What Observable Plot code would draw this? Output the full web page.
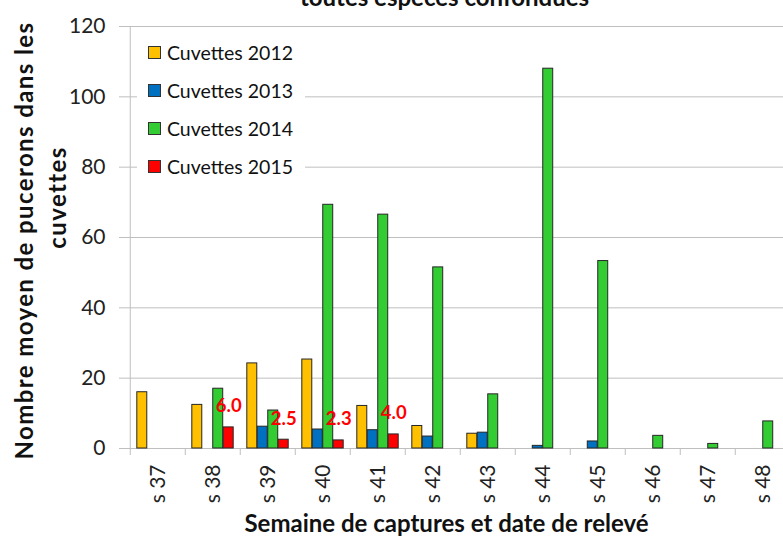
<!DOCTYPE html>
<html><head><meta charset="utf-8">
<script src="https://cdn.jsdelivr.net/npm/d3@7"></script>
<script src="https://cdn.jsdelivr.net/npm/@observablehq/plot@0.6"></script>
<style>
html,body{margin:0;padding:0;overflow:hidden;background:#fff;width:783px;height:538px;}
#wrap{position:relative;width:783px;height:538px;overflow:hidden;}
#legend{position:absolute;left:137px;top:34px;width:168px;height:152px;background:#fff;font-family:Lato,sans-serif;font-size:19.5px;color:#111;}
.row{position:absolute;left:11px;height:22px;display:flex;align-items:center;white-space:nowrap;}
.sw{width:11px;height:11px;border:1px solid #333;margin-right:6px;flex:none;}
</style></head><body><div id="wrap"></div>
<script>
const weeks = ["s 37","s 38","s 39","s 40","s 41","s 42","s 43","s 44","s 45","s 46","s 47","s 48"];
const series = ["Cuvettes 2012","Cuvettes 2013","Cuvettes 2014","Cuvettes 2015"];
const colors = ["#FFC000","#0070C0","#33CC33","#FF0000"];
const v2012 = [16.0, 12.4, 24.2, 25.3, 12.1, 6.4, 4.2, null, null, null, null, null];
const v2013 = [null, null, 6.2, 5.4, 5.2, 3.4, 4.5, 0.75, 2.0, null, null, null];
const v2014 = [null, 17.0, 10.8, 69.3, 66.5, 51.5, 15.4, 108.0, 53.3, 3.6, 1.3, 7.7];
const v2015 = [null, 6.0, 2.5, 2.3, 4.0, null, null, null, null, null, null, null];
const labels2015 = ["", "6.0", "2.5", "2.3", "4.0", "", "", "", "", "", "", ""];
const yTicks = [0, 20, 40, 60, 80, 100, 120];
const title = "toutes espèces confondues";
const yTitle1 = "Nombre moyen de pucerons dans les";
const yTitle2 = "cuvettes";
const xTitle = "Semaine de captures et date de relevé";

const values = [v2012, v2013, v2014, v2015];
const rows = [];
series.forEach((s, i) => weeks.forEach((w, j) => {
  if (values[i][j] != null) rows.push({week: w, series: s, si: i, value: values[i][j], label: i === 3 ? labels2015[j] : ""});
}));

const x0 = 127, x1 = 793;
const step = (x1 - x0) / weeks.length;
const slot = step / 5.3;
const outer = slot * 0.65;
const font = "Lato, sans-serif";

const barMarks = series.map((s, i) => Plot.barY(rows.filter(d => d.si === i), {
  x: "week", y: "value", fill: colors[i], stroke: "#262626", strokeWidth: 1,
  insetLeft: outer + i * slot, insetRight: step - outer - (i + 1) * slot
}));

const redOffset = outer + 3 * slot + slot / 2 - step / 2;

const chart = Plot.plot({
  width: 783, height: 538,
  marginLeft: x0, marginRight: 0, marginTop: 26, marginBottom: 90,
  style: {fontFamily: font, background: "transparent", overflow: "hidden"},
  x: {type: "band", domain: weeks, range: [x0, x1], padding: 0, label: null},
  y: {domain: [0, 120], range: [448, 26], label: null},
  marks: [
    Plot.gridY(yTicks, {stroke: "#bfbfbf", strokeOpacity: 1}),
    Plot.ruleX(weeks.slice(0, 1), {x: d => d, dx: -step / 2, stroke: "#bfbfbf"}),
    Plot.ruleX(weeks, {x: d => d, dx: -step / 2, y1: 0, y2: 0, insetBottom: -7, stroke: "#bfbfbf"}),
    Plot.axisY({ticks: yTicks, tickSize: 8, tickPadding: 14, stroke: "#bfbfbf", fontSize: 21, fill: "#222", label: null}),
    Plot.axisX({tickSize: 0, tickRotate: -90, tickPadding: 16, fontSize: 21, fill: "#222", label: null}),
    ...barMarks,
    Plot.text(rows.filter(d => d.si === 3), {x: "week", y: "value", text: "label", dx: redOffset, dy: -21,
      fill: "#FF0000", fontWeight: "bold", fontSize: 18.5, lineAnchor: "middle"}),
    Plot.text([title], {frameAnchor: "top", text: d => d, dx: -11, dy: -28, fontWeight: "bold", fontSize: 24, fill: "#111", lineAnchor: "middle"}),
    Plot.text([yTitle1], {frameAnchor: "left", text: d => d, rotate: -90, textAnchor: "middle", dx: -102, dy: 3, fontWeight: "bold", fontSize: 24, fill: "#111", lineAnchor: "middle"}),
    Plot.text([yTitle2], {frameAnchor: "left", text: d => d, rotate: -90, textAnchor: "middle", dx: -69, dy: -40, fontWeight: "bold", fontSize: 24, fill: "#111", lineAnchor: "middle"}),
    Plot.text([xTitle], {frameAnchor: "bottom", text: d => d, textAnchor: "middle", dx: -9, dy: 76, fontWeight: "bold", fontSize: 24, fill: "#111", lineAnchor: "middle"})
  ]
});
// widen the rotated axis title letter spacing to match the reference's length
d3.select(chart).selectAll("text")
  .filter(function() { return this.textContent === yTitle1 || this.textContent === yTitle2; })
  .attr("letter-spacing", "1.4px");

const wrap = document.getElementById("wrap");
wrap.appendChild(chart);

const legend = document.createElement("div");
legend.id = "legend";
series.forEach((s, i) => {
  const r = document.createElement("div");
  r.className = "row";
  r.style.top = (18 + i * 38.3 - 11) + "px";
  const sw = document.createElement("span");
  sw.className = "sw"; sw.style.background = colors[i];
  const t = document.createElement("span"); t.textContent = s;
  r.appendChild(sw); r.appendChild(t);
  legend.appendChild(r);
});
wrap.appendChild(legend);
</script></body></html>
